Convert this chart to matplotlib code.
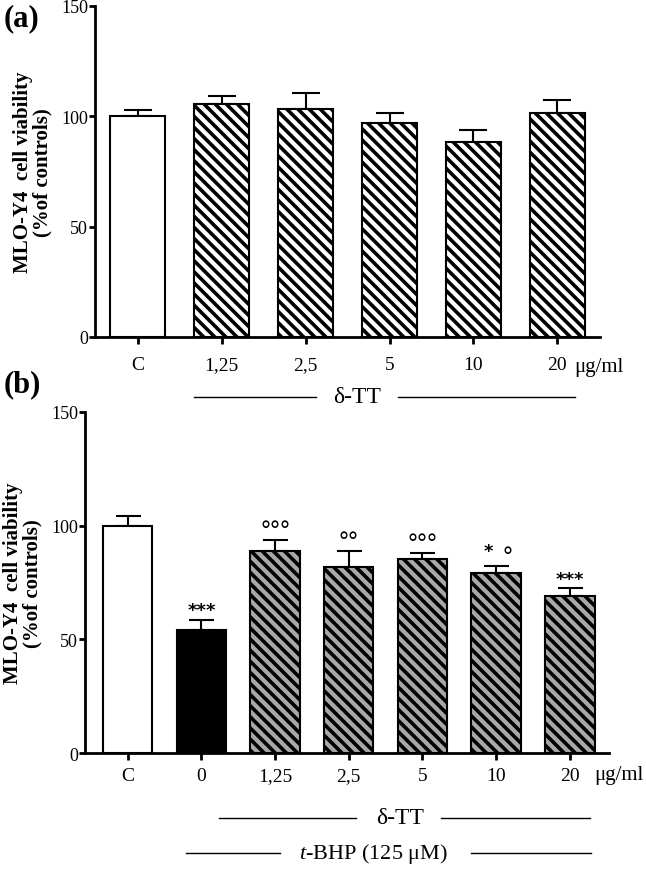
import numpy as np
import matplotlib.pyplot as plt
import matplotlib.transforms as mtransforms

plt.rcParams['font.family'] = ['Liberation Serif', 'DejaVu Serif']
plt.rcParams['mathtext.fontset'] = 'custom'
plt.rcParams['mathtext.it'] = 'Liberation Serif:italic'
plt.rcParams['mathtext.rm'] = 'Liberation Serif'
plt.rcParams['hatch.linewidth'] = 2.6

# panel (a): δ-TT alone
cats_a = ["C", "1,25", "2,5", "5", "10", "20"]
mean_a = [100, 105.4, 103.3, 96.8, 88.2, 101.5]
err_a = [3.0, 3.6, 7.1, 4.6, 5.6, 5.8]

# panel (b): δ-TT + t-BHP
cats_b = ["C", "0", "1,25", "2,5", "5", "10", "20"]
mean_b = [100, 53.9, 88.8, 81.8, 85.2, 79.3, 69.0]
err_b = [4.3, 4.8, 4.7, 7.0, 2.6, 2.9, 3.4]
stars_b = ["", "***", "", "", "", "*", "***"]
circles_b = ["", "", "°°°", "°°", "°°°", "°", ""]

fig = plt.figure(figsize=(6.46, 8.70), dpi=100)
ax_a = fig.add_axes([0.147, 0.6115, 0.782, 0.3805])
ax_b = fig.add_axes([0.1316, 0.1333, 0.811, 0.392])

gray = "#a8a8a8"
hatch = "\\\\\\"


def style_axis(ax, pad):
    for s in ["top", "right"]:
        ax.spines[s].set_visible(False)
    for s in ["left", "bottom"]:
        ax.spines[s].set_linewidth(2.0)
    ax.set_ylim(0, 150)
    ax.set_yticks([0, 50, 100, 150])
    ax.tick_params(axis="y", length=4, width=2.0, pad=1, labelsize=13)
    ax.tick_params(axis="x", length=5, width=2.0, pad=pad, labelsize=14)
    ax.set_ylabel("MLO-Y4  cell viability\n(%of controls)", fontsize=15,
                  fontweight="bold", labelpad=6, linespacing=1.0)


def bracket(ax, x0, x1, x2, x3, xt, y, text, size):
    tr = mtransforms.blended_transform_factory(ax.transData, ax.transAxes)
    ax.plot([x0, x1], [y, y], color="black", lw=1.0, transform=tr, clip_on=False)
    ax.plot([x2, x3], [y, y], color="black", lw=1.0, transform=tr, clip_on=False)
    ax.text(xt, y, text, transform=tr, ha="center", va="center", fontsize=size)


# ---- (a)
xa = np.arange(len(cats_a))
hatches_a = [""] + [hatch] * 5
for i in range(len(cats_a)):
    ax_a.bar(xa[i], mean_a[i], width=0.66, color="white", edgecolor="black",
             linewidth=1.5, hatch=hatches_a[i], zorder=2)
ax_a.errorbar(xa, mean_a, yerr=[np.zeros(len(err_a)), err_a], fmt="none",
              ecolor="black", elinewidth=1.5, capsize=10, capthick=1.5, zorder=1)
ax_a.set_xlim(-0.51, 5.51)
ax_a.set_xticks(xa)
ax_a.set_xticklabels(cats_a)
style_axis(ax_a, 9)
tr_a = mtransforms.blended_transform_factory(ax_a.transData, ax_a.transAxes)
ax_a.text(5.2, -0.088, "μg/ml", transform=tr_a, ha="left", va="center", fontsize=15)
bracket(ax_a, 0.67, 2.13, 3.10, 5.21, 2.61, -0.181, "δ-TT", 17)

# ---- (b)
xb = np.arange(len(cats_b))
faces_b = ["white", "black"] + [gray] * 5
hatches_b = ["", ""] + [hatch] * 5
for i in range(len(cats_b)):
    ax_b.bar(xb[i], mean_b[i], width=0.67, color=faces_b[i], edgecolor="black",
             linewidth=1.5, hatch=hatches_b[i], zorder=2)
ax_b.errorbar(xb, mean_b, yerr=[np.zeros(len(err_b)), err_b], fmt="none",
              ecolor="black", elinewidth=1.5, capsize=9, capthick=1.5, zorder=1)
for i in range(len(cats_b)):
    top = mean_b[i] + err_b[i]
    both = stars_b[i] and circles_b[i]
    if stars_b[i]:
        ax_b.text(xb[i] - (0.11 if both else 0), top + (4.5 if both else 2.0),
                  stars_b[i], ha="center", va="baseline", fontsize=13,
                  fontweight="bold", family="DejaVu Sans")
    if circles_b[i]:
        ax_b.text(xb[i] + (0.16 if both else 0), top + 1.0, circles_b[i],
                  ha="center", va="baseline", fontsize=18, family="Liberation Sans")
ax_b.set_xlim(-0.58, 6.53)
ax_b.set_xticks(xb)
ax_b.set_xticklabels(cats_b)
style_axis(ax_b, 5)
tr_b = mtransforms.blended_transform_factory(ax_b.transData, ax_b.transAxes)
ax_b.text(6.33, -0.062, "μg/ml", transform=tr_b, ha="left", va="center", fontsize=15)
bracket(ax_b, 1.24, 3.10, 4.25, 6.27, 3.70, -0.19, "δ-TT", 17)
bracket(ax_b, 0.79, 2.06, 4.66, 6.29, 3.34, -0.293, "$\\mathit{t}$-BHP (125 μM)", 16)

fig.text(0.006, 0.979, "(a)", fontsize=22, fontweight="bold", ha="left", va="center")
fig.text(0.006, 0.558, "(b)", fontsize=22, fontweight="bold", ha="left", va="center")

fig.savefig("out.png", dpi=100)
